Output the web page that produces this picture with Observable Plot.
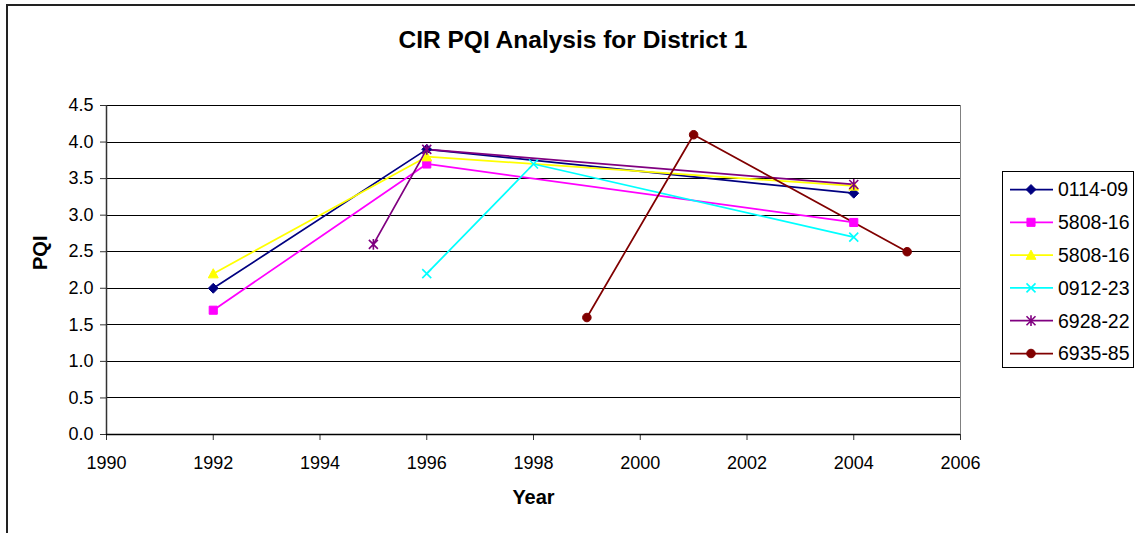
<!DOCTYPE html>
<html>
<head>
<meta charset="utf-8">
<script src="https://cdn.jsdelivr.net/npm/d3@7"></script>
<script src="https://cdn.jsdelivr.net/npm/@observablehq/plot@0.6"></script>
<style>
  html, body { margin: 0; padding: 0; background: #fff; }
  #wrap { position: relative; width: 1135px; height: 533px; overflow: hidden; font-family: "Liberation Sans", Arial, sans-serif; }
  #frame { position: absolute; left: 6px; top: 4px; width: 1200px; height: 600px; border: 2px solid #222; box-sizing: border-box; }
  #title { position: absolute; left: 573px; top: 40px; transform: translate(-50%, -50%); font-size: 24.5px; font-weight: bold; white-space: nowrap; color: #000; }
  #chart { position: absolute; left: 0; top: 0; }
  #legend { position: absolute; left: 1002px; top: 171px; }
</style>
</head>
<body>
<div id="wrap">
  <div id="frame"></div>
  <div id="chart"></div>
  <div id="title">CIR PQI Analysis for District 1</div>
  <div id="legend"></div>
</div>
<script>
// ---- data ----
const seriesNames = ["0114-09", "5808-16", "5808-16", "0912-23", "6928-22", "6935-85"];
const seriesColors = ["#000080", "#FF00FF", "#FFFF00", "#00FFFF", "#800080", "#800000"];

const years0 = [1992, 1996, 2004];
const pqi0 = [2.0, 3.9, 3.3];
const years1 = [1992, 1996, 2004];
const pqi1 = [1.7, 3.7, 2.9];
const years2 = [1992, 1996, 2004];
const pqi2 = [2.2, 3.8, 3.4];
const years3 = [1996, 1998, 2004];
const pqi3 = [2.2, 3.7, 2.7];
const years4 = [1995, 1996, 2004];
const pqi4 = [2.6, 3.9, 3.42];
const years5 = [1999, 2001, 2005];
const pqi5 = [1.6, 4.1, 2.5];

const xTicks = [1990, 1992, 1994, 1996, 1998, 2000, 2002, 2004, 2006];
const yTicks = [0, 0.5, 1.0, 1.5, 2.0, 2.5, 3.0, 3.5, 4.0, 4.5];

const seriesYears = [years0, years1, years2, years3, years4, years5];
const seriesPqi = [pqi0, pqi1, pqi2, pqi3, pqi4, pqi5];

// ---- custom Excel-like marker symbols ----
const rad = (size) => Math.sqrt(size / Math.PI);
const symDiamond = { draw(c, size) { const r = rad(size) * 1.1; c.moveTo(0, -r); c.lineTo(r, 0); c.lineTo(0, r); c.lineTo(-r, 0); c.closePath(); } };
const symSquare = { draw(c, size) { const r = rad(size) * 0.9; c.rect(-r, -r, 2 * r, 2 * r); } };
const symTriangle = { draw(c, size) { const r = rad(size) * 1.1; c.moveTo(0, -r); c.lineTo(r, r * 0.85); c.lineTo(-r, r * 0.85); c.closePath(); } };
const symX = { draw(c, size) { const r = rad(size) * 1.0; c.moveTo(-r, -r); c.lineTo(r, r); c.moveTo(r, -r); c.lineTo(-r, r); } };
const symStar = { draw(c, size) { const r = rad(size) * 1.0; c.moveTo(-r, -r); c.lineTo(r, r); c.moveTo(r, -r); c.lineTo(-r, r); c.moveTo(0, -r * 1.2); c.lineTo(0, r * 1.2); } };
const symCircle = { draw(c, size) { const r = rad(size) * 0.95; c.moveTo(r, 0); c.arc(0, 0, r, 0, 2 * Math.PI); } };
const seriesSymbols = [symDiamond, symSquare, symTriangle, symX, symStar, symCircle];
const seriesFilled = [true, true, true, false, false, true];

const rows = [];
seriesYears.forEach((ys, i) => ys.forEach((y, j) => rows.push({ series: i, name: seriesNames[i], year: y, pqi: seriesPqi[i][j] })));

const marks = [
  Plot.frame({ stroke: "#808080", strokeWidth: 1 }),
  Plot.ruleY(yTicks.filter(d => d > 0), { stroke: "#000", strokeWidth: 1, shapeRendering: "crispEdges" }),
  Plot.axisY({ ticks: yTicks, tickFormat: d => d.toFixed(1), tickSize: 6, tickPadding: 7, fontSize: 18, label: null, stroke: "#333" }),
  Plot.axisX({ ticks: xTicks, tickFormat: d => String(d), tickSize: 6, tickPadding: 16, fontSize: 18, label: null, stroke: "#333" }),
  Plot.ruleX([1990], { y1: 0, y2: 4.5, stroke: "#333", strokeWidth: 1.5 }),
  Plot.ruleY([0], { stroke: "#000", strokeWidth: 1.5 }),
  Plot.text(["Year"], { frameAnchor: "bottom", dy: 69, fontWeight: "bold", fontSize: 20, fill: "#000" }),
  Plot.text(["PQI"], { frameAnchor: "left", dx: -66, rotate: -90, fontWeight: "bold", fontSize: 20, fill: "#000" })
];

seriesNames.forEach((n, i) => {
  const data = rows.filter(d => d.series === i);
  marks.push(Plot.line(data, { x: "year", y: "pqi", stroke: seriesColors[i], strokeWidth: 1.75 }));
});
seriesNames.forEach((n, i) => {
  const data = rows.filter(d => d.series === i);
  marks.push(Plot.dot(data, {
    x: "year", y: "pqi", r: 4.5, symbol: seriesSymbols[i],
    fill: seriesFilled[i] ? seriesColors[i] : "none",
    stroke: seriesColors[i], strokeWidth: seriesFilled[i] ? 1 : 1.6
  }));
});

const chart = Plot.plot({
  width: 1000,
  height: 533,
  marginLeft: 106,
  marginRight: 40,
  marginTop: 105,
  marginBottom: 99,
  style: { background: "transparent", fontFamily: "'Liberation Sans', Arial, sans-serif", color: "#000" },
  x: { domain: [1990, 2006] },
  y: { domain: [0, 4.5] },
  marks
});
document.getElementById("chart").appendChild(chart);

// ---- legend ----
const lw = 132, lh = 197;
const lsvg = d3.select("#legend").append("svg").attr("width", lw).attr("height", lh);
lsvg.append("rect").attr("x", 0.5).attr("y", 0.5).attr("width", lw - 1).attr("height", lh - 1)
  .attr("fill", "#fff").attr("stroke", "#000").attr("stroke-width", 1);
seriesNames.forEach((n, i) => {
  const cy = 18.5 + i * 32.8;
  const g = lsvg.append("g").attr("transform", `translate(0,${cy})`);
  g.append("line").attr("x1", 8).attr("x2", 51).attr("y1", 0).attr("y2", 0)
    .attr("stroke", seriesColors[i]).attr("stroke-width", 1.75);
  g.append("path").attr("transform", "translate(29,0)")
    .attr("d", d3.symbol(seriesSymbols[i], 4.5 * 4.5 * Math.PI)())
    .attr("fill", seriesFilled[i] ? seriesColors[i] : "none")
    .attr("stroke", seriesColors[i]).attr("stroke-width", seriesFilled[i] ? 1 : 1.6);
  g.append("text").attr("x", 56).attr("y", 0).attr("dy", "0.35em")
    .attr("font-size", 19.5).attr("font-family", "'Liberation Sans', Arial, sans-serif")
    .attr("fill", "#000").text(n);
});
</script>
</body>
</html>
